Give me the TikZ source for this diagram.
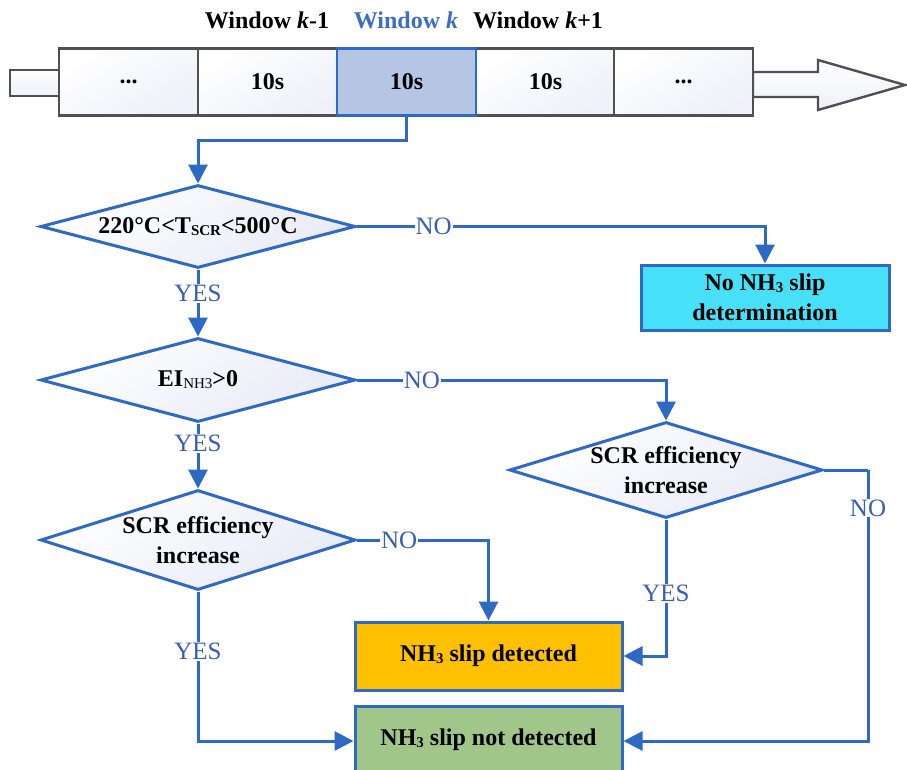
\documentclass[tikz,border=0pt]{standalone}
\usepackage{fontspec}
\setmainfont{Liberation Serif}
\usetikzlibrary{arrows.meta,shapes.geometric}
\definecolor{lblue}{RGB}{46,106,196}
\definecolor{tblue}{RGB}{58,94,181}
\definecolor{wblue}{RGB}{60,111,194}
\definecolor{cyanbox}{RGB}{72,224,248}
\definecolor{goldbox}{RGB}{255,192,0}
\definecolor{greenbox}{RGB}{160,198,138}
\definecolor{hicell}{RGB}{180,198,228}
\definecolor{cellgray}{RGB}{80,80,80}
\definecolor{diafill}{RGB}{232,234,246}
\newcommand{\sub}[1]{{\fontsize{15}{15}\selectfont\raisebox{-2pt}{#1}}}
\tikzset{
  cell/.style={rectangle, draw=cellgray, line width=2.4pt, minimum width=139pt, minimum height=67pt,
    inner sep=0, top color=white, bottom color=diafill!70, shading angle=30, font=\fontsize{24}{26}\selectfont\bfseries},
  dia/.style={diamond, draw=lblue, line width=3pt, inner sep=0,
    shading=axis, top color=white, bottom color=diafill, shading angle=35},
  diatext/.style={align=center, font=\fontsize{24}{30}\selectfont\bfseries},
  box/.style={rectangle, draw=lblue, line width=3pt, inner sep=0, align=center,
    font=\fontsize{24}{30}\selectfont\bfseries},
  conn/.style={draw=lblue, line width=3pt, -{Triangle[width=19pt,length=19pt]}},
  connp/.style={draw=lblue, line width=3pt},
  lab/.style={fill=white, inner sep=1pt, text=tblue, font=\fontsize{25}{27}\selectfont},
  wlab/.style={font=\fontsize{24}{26}\selectfont\bfseries},
}
\begin{document}
\begin{tikzpicture}[x=1pt,y=-1pt]
\useasboundingbox (0,0) rectangle (907,769);
% timeline
\draw[cellgray, line width=2.4pt, top color=white, bottom color=diafill!70] (10,70) rectangle (60,96);
\draw[cellgray, line width=2.4pt, top color=white, bottom color=diafill!70]
  (753,72) -- (818,72) -- (818,60) -- (905,85) -- (818,110) -- (818,97) -- (753,97) -- cycle;
\node[cell] (c1) at (128.5,82) {...};
\node[cell] (c2) at (267.5,82) {10s};
\node[cell] (c4) at (545.5,82) {10s};
\node[cell] (c5) at (683.5,82) {...};
\node[cell, fill=hicell, shading=none, top color=hicell, bottom color=hicell, draw=lblue] (c3) at (406.5,82) {10s};
\node[wlab] (w1) at (267,20) {Window \textit{k}-1};
\node[wlab, text=wblue] (w2) at (406,20) {Window \textit{k}};
\node[wlab] (w3) at (538,20) {Window \textit{k}+1};
% diamonds
\node[dia, minimum width=315pt, minimum height=83pt] (d1) at (198,226.5) {};
\node[diatext] at (d1) {220°C<T\sub{SCR}<500°C};
\node[dia, minimum width=315pt, minimum height=84pt] (d2) at (198,380) {};
\node[diatext] at (d2) {EI\textmd{\sub{NH3}}>0};
\node[dia, minimum width=315pt, minimum height=100pt] (d4) at (198,540) {};
\node[diatext] at (d4) {SCR efficiency\\increase};
\node[dia, minimum width=313pt, minimum height=96pt] (d3) at (666,470) {};
\node[diatext] at (d3) {SCR efficiency\\increase};
% boxes
\node[box, fill=cyanbox, minimum width=248pt, minimum height=65pt] (b1) at (765,297.5) {No NH\sub{3} slip\\determination};
\node[box, fill=goldbox, minimum width=267pt, minimum height=68pt] (bD) at (488.5,656) {NH\sub{3} slip detected};
\node[box, fill=greenbox, minimum width=267pt, minimum height=70pt] (bN) at (488.5,741) {};
\node[font=\fontsize{24}{26}\selectfont\bfseries] at (488.5,740) {NH\sub{3} slip not detected};
% connectors
\coordinate (t1) at (406.5,140);
\draw[conn] (c3.south) -- (t1) -| (d1.north);
\draw[conn] (d1.east) -| node[lab, pos=0.094] {NO} (b1.north);
\draw[conn] (d1.south) -- node[lab, pos=0.36] {YES} (d2.north);
\draw[conn] (d2.east) -| node[lab, pos=0.105] {NO} (d3.north);
\draw[conn] (d2.south) -- node[lab, pos=0.31] {YES} (d4.north);
\draw[conn] (d4.east) -| node[lab, pos=0.16] {NO} (bD.north);
\draw[conn] (d4.south) |- node[lab, pos=0.2] {YES} (bN.west);
\draw[conn] (d3.south) |- node[lab, pos=0.27] {YES} (bD.east);
\coordinate (r3) at (868,470);
\draw[connp] (d3.east) -- (r3);
\draw[conn] (r3) |- node[lab, pos=0.07] {NO} (bN.east);
\end{tikzpicture}
\end{document}
